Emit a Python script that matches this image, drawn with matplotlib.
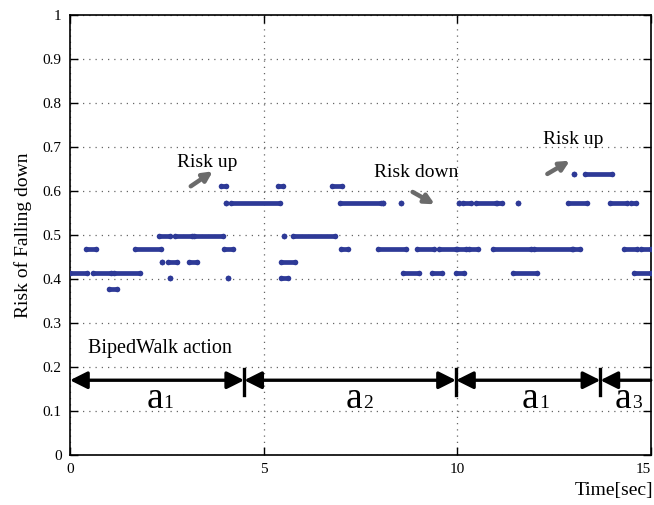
import matplotlib
matplotlib.use('Agg')
import matplotlib.pyplot as plt
import matplotlib.transforms as mtransforms

plt.rcParams['font.family'] = 'serif'
plt.rcParams['font.serif'] = ['Liberation Serif', 'DejaVu Serif']

# Risk level runs: (start time, end time) for every discrete risk value
risk_runs = {
    0.377: [(1.01, 1.21)],
    0.402: [(2.58, 2.58), (4.08, 4.08), (5.44, 5.63)],
    0.413: [(0.0, 0.44), (0.59, 1.05), (1.14, 1.82), (8.60, 9.02), (9.34, 9.62),
            (9.98, 10.18), (11.45, 12.05), (14.57, 15.0)],
    0.439: [(2.38, 2.38), (2.53, 2.76), (3.08, 3.27), (5.44, 5.82)],
    0.469: [(0.41, 0.66), (1.67, 2.36), (3.98, 4.20), (7.01, 7.18), (7.96, 8.69),
            (8.97, 9.40), (9.52, 9.97), (10.0, 10.22), (10.31, 10.54), (10.93, 11.90),
            (11.99, 12.96), (12.98, 13.17), (14.32, 14.64), (14.75, 15.0)],
    0.497: [(2.29, 2.59), (2.71, 3.14), (3.21, 3.95), (5.53, 5.53), (5.76, 6.84)],
    0.572: [(4.02, 4.02), (4.15, 5.43), (6.98, 8.03), (8.09, 8.09), (8.56, 8.56),
            (10.05, 10.05), (10.16, 10.37), (10.48, 11.00), (11.03, 11.16), (11.56, 11.56),
            (12.87, 13.35), (13.96, 14.38), (14.49, 14.62)],
    0.612: [(3.89, 4.04), (5.38, 5.50), (6.78, 7.03)],
    0.638: [(13.02, 13.02), (13.29, 14.01)],
}

# Action phases of the BipedWalk behaviour
phase_edges = [0.0, 4.5, 9.97, 13.7, 15.0]
phase_names = ['a', 'a', 'a', 'a']
phase_subs = ['1', '2', '1', '3']
phase_label_x = [2.40, 7.55, 12.09, 14.50]

# Risk annotations: text, text position, arrow tail, arrow head
notes = [
    ('Risk up', (2.76, 0.654), (3.12, 0.611), (3.69, 0.645)),
    ('Risk down', (7.85, 0.631), (8.85, 0.598), (9.42, 0.570)),
    ('Risk up', (12.21, 0.707), (12.33, 0.639), (12.91, 0.669)),
]

fig = plt.figure(figsize=(6.54, 5.05), dpi=100)
ax = fig.add_axes([0.107, 0.099, 0.888, 0.871])

dot_color = '#2e3a97'
for level, runs in risk_runs.items():
    for t0, t1 in runs:
        ax.plot([t0, t1], [level, level], '-o', color=dot_color, lw=3.4, ms=4.0,
                mec='none', solid_capstyle='round', zorder=3)

# phase arrows; the last phase runs off the right edge
bar_y = 0.17
for i in range(len(phase_edges) - 1):
    style = '<|-|>' if i < len(phase_edges) - 2 else '-|>'
    ax.annotate('', xy=(phase_edges[i], bar_y), xytext=(phase_edges[i + 1], bar_y),
                arrowprops=dict(arrowstyle=style, color='black', lw=2.4,
                                mutation_scale=26, shrinkA=0, shrinkB=0),
                annotation_clip=False)
for xe in phase_edges[1:-1]:
    ax.plot([xe, xe], [0.136, 0.196], color='black', lw=2.4, zorder=4)

for name, sub, xl in zip(phase_names, phase_subs, phase_label_x):
    ax.text(xl, 0.107, name, ha='right', va='baseline', fontsize=27)
    ax.text(xl + 0.02, 0.107, sub, ha='left', va='baseline', fontsize=14)

ax.text(0.47, 0.233, 'BipedWalk action', fontsize=14.5, va='baseline')

for label, tpos, tail, head in notes:
    ax.text(tpos[0], tpos[1], label, fontsize=14, va='baseline')
    ax.annotate('', xy=head, xytext=tail,
                arrowprops=dict(arrowstyle='-|>', color='#6b6b6b', lw=3.2,
                                mutation_scale=14, shrinkA=0, shrinkB=0))

ax.set_xlim(0, 15)
ax.set_ylim(0, 1)
ax.set_xticks([0, 5, 10, 15])
ax.set_yticks([i / 10 for i in range(11)])
ax.set_yticklabels(['0', '0.1', '0.2', '0.3', '0.4', '0.5', '0.6', '0.7', '0.8', '0.9', '1'])
ax.tick_params(direction='in', length=6, width=1, top=True, right=True, labelsize=11, pad=6)
ax.grid(True, linestyle=(0, (1, 4)), color='0.4', lw=0.9)
for sp in ax.spines.values():
    sp.set_linewidth(1.2)

# keep the "15" label inside the figure
last = ax.get_xticklabels()[-1]
last.set_transform(last.get_transform() +
                   mtransforms.ScaledTranslation(-5 / 72, 0, fig.dpi_scale_trans))

ax.set_ylabel('Risk of Falling down', fontsize=14, labelpad=8)
fig.text(0.999, 0.012, 'Time[sec]', ha='right', va='bottom', fontsize=14)

fig.savefig('out.png', dpi=100)
